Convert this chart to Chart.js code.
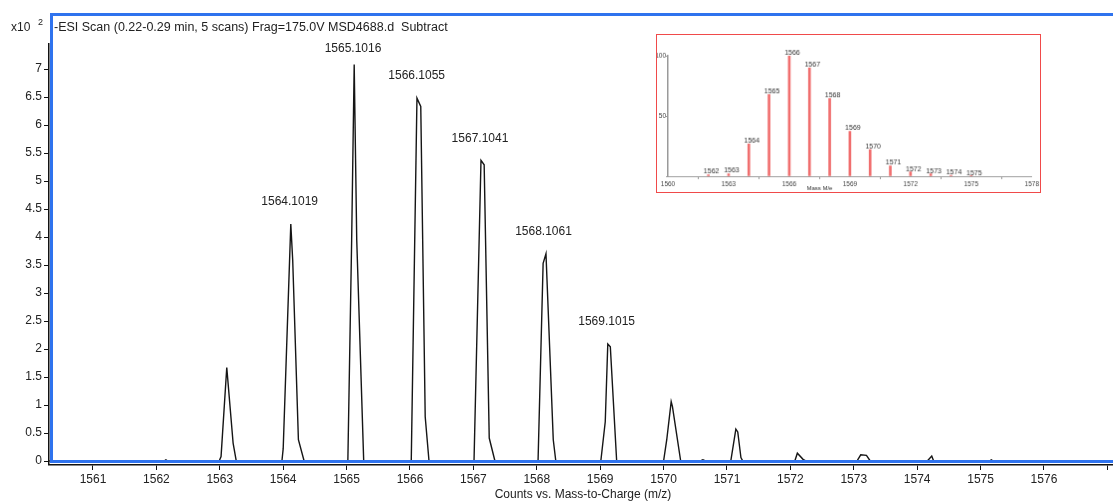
<!DOCTYPE html>
<html>
<head>
<meta charset="utf-8">
<title>-ESI Scan MSD4688.d</title>
<script src="https://cdn.jsdelivr.net/npm/chart.js@4.4.1/dist/chart.umd.min.js"></script>
<style>
  html, body { margin: 0; padding: 0; background: #fff; overflow: hidden; }
  #wrap { position: relative; width: 1113px; height: 503px; overflow: hidden; }
  #spectrum { position: absolute; left: 0; top: 0; }
  #isotopes { position: absolute; left: 656px; top: 34px; border: 1px solid #f04a4a; background: #fff; }
</style>
</head>
<body>
<div id="wrap">
  <canvas id="spectrum" width="1117" height="503"></canvas>
  <canvas id="isotopes" width="385" height="159"></canvas>
</div>
<script>
// profile scan, counts in units of 10^2
const spectrumMz = [
  1560.31,
  1562.12, 1562.15, 1562.18,
  1562.99, 1563.02, 1563.11, 1563.21, 1563.26,
  1563.98, 1564.00, 1564.12, 1564.15, 1564.24, 1564.33,
  1565.02, 1565.08, 1565.12, 1565.16, 1565.27,
  1566.02, 1566.11, 1566.17, 1566.24, 1566.30,
  1567.01, 1567.12, 1567.17, 1567.25, 1567.34,
  1568.02, 1568.10, 1568.145, 1568.26, 1568.30,
  1569.01, 1569.08, 1569.12, 1569.16, 1569.26,
  1570.00, 1570.05, 1570.12, 1570.14, 1570.27,
  1570.58, 1570.62, 1570.66,
  1571.06, 1571.14, 1571.17, 1571.22, 1571.25,
  1572.07, 1572.11, 1572.20, 1572.25,
  1573.05, 1573.11, 1573.20, 1573.26,
  1574.16, 1574.23, 1574.26,
  1575.14, 1575.17, 1575.20,
  1577.15
];
const spectrumCounts = [
  0,
  0, 0.02, 0,
  0, 0.08, 1.67, 0.32, 0,
  0, 0.22, 4.23, 3.59, 0.38, 0,
  0, 3.95, 7.08, 3.95, 0,
  0, 6.48, 6.33, 0.79, 0,
  0, 5.37, 5.29, 0.41, 0,
  0, 3.53, 3.70, 0.38, 0,
  0, 0.70, 2.09, 2.04, 0,
  0, 0.38, 1.06, 0.97, 0,
  0, 0.02, 0,
  0, 0.57, 0.52, 0.06, 0,
  0, 0.14, 0.03, 0,
  0, 0.11, 0.10, 0,
  0, 0.09, 0,
  0, 0.02, 0,
  0
];
const peakLabels = ["1564.1019", "1565.1016", "1566.1055", "1567.1041", "1568.1061", "1569.1015"];
const xTicks = [1561, 1562, 1563, 1564, 1565, 1566, 1567, 1568, 1569, 1570, 1571, 1572, 1573, 1574, 1575, 1576, 1577];
const yTicks = [0, 0.5, 1, 1.5, 2, 2.5, 3, 3.5, 4, 4.5, 5, 5.5, 6, 6.5, 7];

// calculated isotope pattern for the inset, relative abundance %
const insetMz = [1562, 1563, 1564, 1565, 1566, 1567, 1568, 1569, 1570, 1571, 1572, 1573, 1574, 1575];
const insetAbundance = [1.2, 2.0, 26.8, 67.7, 100, 89.8, 64.4, 37.3, 22.1, 8.6, 3.6, 1.9, 0.8, 0.3];
const insetXTicks = [1560, 1561.5, 1563, 1564.5, 1566, 1567.5, 1569, 1570.5, 1572, 1573.5, 1575, 1576.5, 1578];
const insetYTicks = [0, 50, 100];

const FONT = "'Liberation Sans', Arial, Helvetica, sans-serif";
Chart.defaults.font.family = FONT;
Chart.defaults.color = '#222';

const scanText = {
  id: 'scanText',
  afterDatasetsDraw(chart) {
    const { ctx, chartArea: ca, scales } = chart;
    ctx.save();
    // y axis line, starting below the header row
    ctx.strokeStyle = '#111';
    ctx.lineWidth = 1.5;
    ctx.beginPath();
    ctx.moveTo(ca.left - 0.25, 43);
    ctx.lineTo(ca.left - 0.25, ca.bottom);
    ctx.stroke();

    // selection frame round the plot
    ctx.strokeStyle = '#2f73ee';
    ctx.lineWidth = 3;
    ctx.strokeRect(ca.left + 2.5, ca.top + 1.5, ca.right - ca.left + 20, ca.bottom - ca.top - 5);

    ctx.fillStyle = '#222';
    ctx.textBaseline = 'middle';
    ctx.textAlign = 'left';
    ctx.font = '12px ' + FONT;
    ctx.fillText('x10', 11, 28);
    ctx.font = '12.5px ' + FONT;
    ctx.fillText('-ESI Scan (0.22-0.29 min, 5 scans) Frag=175.0V MSD4688.d  Subtract', 54, 28);
    ctx.font = '9px ' + FONT;
    ctx.fillText('2', 38, 23);

    // peak annotations above each apex
    ctx.font = '12px ' + FONT;
    ctx.textAlign = 'center';
    peakLabels.forEach(t => {
      const m = parseFloat(t);
      let top = 0;
      spectrumMz.forEach((x, i) => { if (Math.abs(x - m) < 0.25) top = Math.max(top, spectrumCounts[i]); });
      const px = scales.x.getPixelForValue(m);
      const py = Math.max(scales.y.getPixelForValue(top) - 22, ca.top + 36);
      ctx.fillText(t, px, py);
    });
    ctx.restore();
  }
};

new Chart(document.getElementById('spectrum'), {
  type: 'line',
  data: {
    datasets: [{
      data: spectrumMz.map((m, i) => ({ x: m, y: spectrumCounts[i] })),
      borderColor: '#151515',
      borderWidth: 1.4,
      pointRadius: 0,
      tension: 0,
      fill: false
    }]
  },
  options: {
    responsive: false,
    animation: false,
    events: [],
    layout: { padding: { top: 13, left: 0, right: 0, bottom: 0 } },
    plugins: { legend: { display: false }, tooltip: { enabled: false } },
    scales: {
      x: {
        type: 'linear',
        min: 1560.306,
        max: 1577.152,
        afterBuildTicks: s => { s.ticks = xTicks.map(v => ({ value: v })); },
        afterFit: s => { s.height = 38; },
        grid: { drawOnChartArea: false, drawTicks: true, tickLength: 5, color: '#111', tickWidth: 1 },
        border: { display: true, color: '#111', width: 1.5 },
        ticks: {
          padding: 2, maxRotation: 0, autoSkip: false, color: '#222',
          font: { size: 12 },
          callback: v => v <= 1576 ? String(v) : ''
        },
        title: {
          display: true, text: 'Counts vs. Mass-to-Charge (m/z)', color: '#222',
          font: { size: 12 }, padding: { top: 0, bottom: 1 }
        }
      },
      y: {
        min: -0.0714,
        max: 8.0,
        afterBuildTicks: s => { s.ticks = yTicks.map(v => ({ value: v })); },
        afterFit: s => { s.width = 49; },
        grid: { drawOnChartArea: false, drawTicks: true, tickLength: 5, color: '#111', tickWidth: 1 },
        border: { display: false },
        ticks: { padding: 2, color: '#222', font: { size: 12 }, callback: v => String(v) }
      }
    }
  },
  plugins: [scanText]
});

const stickText = {
  id: 'stickText',
  afterDatasetsDraw(chart) {
    const { ctx, scales } = chart;
    const meta = chart.getDatasetMeta(0);
    ctx.save();
    ctx.fillStyle = '#333';
    ctx.font = '7px ' + FONT;
    ctx.textAlign = 'center';
    ctx.textBaseline = 'middle';
    meta.data.forEach((bar, i) => ctx.fillText(String(insetMz[i]), bar.x + 3, bar.y - 3));
    ctx.font = '6px ' + FONT;
    ctx.fillText('Mass M/e', scales.x.getPixelForValue(1567.5), 155.5);
    ctx.restore();
  }
};

new Chart(document.getElementById('isotopes'), {
  type: 'bar',
  data: {
    datasets: [{
      data: insetMz.map((m, i) => ({ x: m, y: insetAbundance[i] })),
      backgroundColor: '#f06e6e',
      barThickness: 2,
      borderWidth: 0
    }]
  },
  options: {
    responsive: false,
    animation: false,
    events: [],
    layout: { padding: { top: 21, right: 7, left: 0, bottom: 0 } },
    plugins: { legend: { display: false }, tooltip: { enabled: false } },
    scales: {
      x: {
        type: 'linear',
        min: 1560,
        max: 1578,
        offset: false,
        afterBuildTicks: s => { s.ticks = insetXTicks.map(v => ({ value: v })); },
        afterFit: s => { s.height = 16; },
        grid: {
          offset: false, drawOnChartArea: false, tickLength: 3,
          color: c => (c.tick && c.tick.value % 3 === 0) ? 'rgba(0,0,0,0)' : '#999'
        },
        border: { display: true, color: '#9a9a9a', width: 1 },
        ticks: {
          padding: 1, maxRotation: 0, autoSkip: false, color: '#444',
          font: { size: 6.5 },
          callback: v => v % 3 === 0 ? String(v) : ''
        }
      },
      y: {
        min: 0,
        max: 100,
        afterBuildTicks: s => { s.ticks = insetYTicks.map(v => ({ value: v })); },
        afterFit: s => { s.width = 11; },
        grid: { drawOnChartArea: false, tickLength: 2, color: '#999' },
        border: { display: true, color: '#9a9a9a', width: 1.5 },
        ticks: { padding: 0, color: '#444', font: { size: 6.5 }, callback: v => v === 0 ? '' : String(v) }
      }
    }
  },
  plugins: [stickText]
});
</script>
</body>
</html>
